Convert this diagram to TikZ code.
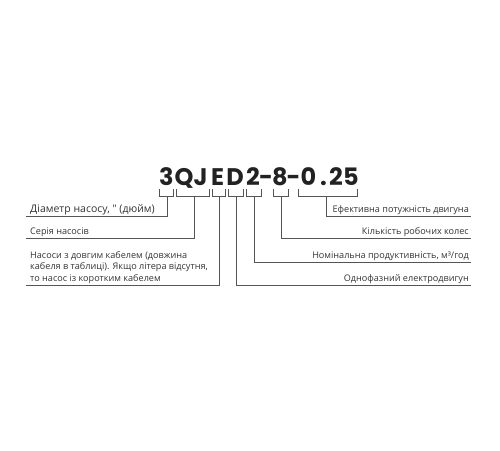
\documentclass[tikz,border=0pt]{standalone}
\usepackage{fontspec}
\newfontfamily\labfont{Open Sans}[Ligatures=TeXOff]
\newfontfamily\codefont{Poppins}
\definecolor{txt}{HTML}{333333}
\definecolor{ln}{HTML}{555555}
\definecolor{cd}{HTML}{222222}
\begin{document}
\begin{tikzpicture}[x=1pt,y=-1pt,
  ch/.style={anchor=base,inner sep=0pt,font=\codefont\bfseries\fontsize{24}{24}\selectfont,text=cd},
  lab/.style={inner sep=0pt,font=\labfont\fontsize{9.1}{11.4}\selectfont,text=txt},
  bigl/.style={lab,font=\labfont\fontsize{10.5}{11.5}\selectfont},
  br/.style={draw=ln,line width=0.9pt},
  lead/.style={draw=ln,line width=0.9pt}]
\useasboundingbox (0,0) rectangle (500,450);
% code characters
\node[ch] (c1) at (166.5,185) {3};
\node[ch] (c2) at (184,185) {Q};
\node[ch] (c3) at (200.5,185) {J};
\node[ch] (c4) at (217.5,185) {E};
\node[ch] (c5) at (235,185) {D};
\node[ch] (c6) at (253,185) {2};
\node[ch] (c7) at (266,185) {-};
\node[ch] (c8) at (280,185) {8};
\node[ch] (c9) at (293.5,185) {-};
\node[ch] (c10) at (308.5,185) {0};
\node[ch] (c11) at (323.5,185) {.};
\node[ch] (c12) at (336,185) {2};
\node[ch] (c13) at (351,185) {5};
% brackets
\draw[br] (159,189) -- (159,196) -- (173,196) -- (173,189);
\draw[br] (176,189) -- (176,196) -- (209,196) -- (209,189);
\draw[br] (212,189) -- (212,196) -- (225,196) -- (225,189);
\draw[br] (228,189) -- (228,196) -- (243,196) -- (243,189);
\draw[br] (246,189) -- (246,196) -- (261,196) -- (261,189);
\draw[br] (273,189) -- (273,196) -- (288,196) -- (288,189);
\draw[br] (298,189) -- (298,196) -- (357,196) -- (357,189);
% stem start points
\coordinate (s1) at (167,196);
\coordinate (s2) at (194,196);
\coordinate (s3) at (219,196);
\coordinate (s4) at (236,196);
\coordinate (s5) at (254,196);
\coordinate (s6) at (281,196);
\coordinate (s7) at (326,196);
% line ends
\coordinate (e1) at (26,216.5);
\coordinate (e2) at (26,238);
\coordinate (e3) at (26,285);
\coordinate (e4) at (471,285);
\coordinate (e5) at (471,262);
\coordinate (e6) at (471,238);
\coordinate (e7) at (471,216.5);
\draw[lead] (s1) |- (e1);
\draw[lead] (s2) |- (e2);
\draw[lead] (s3) |- (e3);
\draw[lead] (s4) |- (e4);
\draw[lead] (s5) |- (e5);
\draw[lead] (s6) |- (e6);
\draw[lead] (s7) |- (e7);
% labels
\node[bigl,anchor=base west] (t1) at (30,212) {Діаметр насосу, " (дюйм)};
\node[lab,anchor=base west] (t2) at (30,234) {Серія насосів};
\node[lab,anchor=base west,align=left] (t3) at (30,281) {Насоси з довгим кабелем (довжина\\кабеля в таблиці). Якщо літера відсутня,\\то насос із коротким кабелем};
\node[lab,anchor=base east] (t4) at (469,281) {Однофазний електродвигун};
\node[lab,anchor=base east] (t5) at (469,258) {Номінальна продуктивність, м³/год};
\node[lab,anchor=base east] (t6) at (469,234) {Кількість робочих колес};
\node[lab,anchor=base east] (t7) at (469,212) {Ефективна потужність двигуна};
\end{tikzpicture}
\end{document}
